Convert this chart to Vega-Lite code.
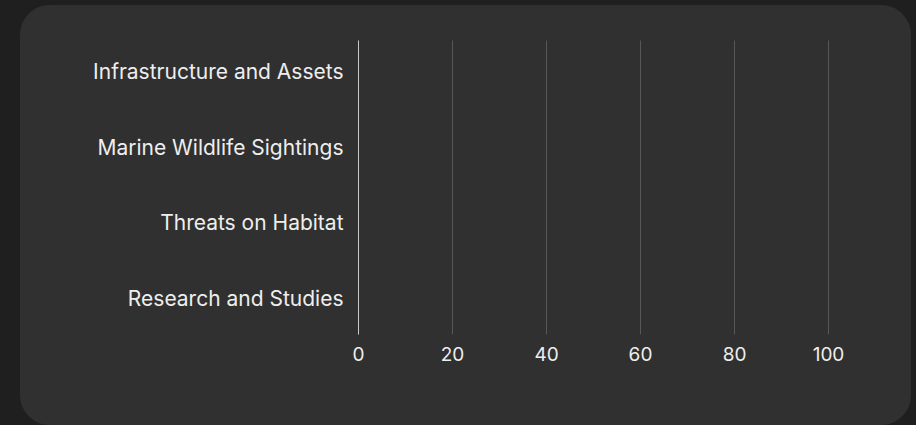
{
  "$schema": "https://vega.github.io/schema/vega-lite/v6.json",
  "width": 891,
  "height": 420,
  "autosize": {"type": "none"},
  "padding": {"left": 20, "top": 5, "right": 5, "bottom": 0},
  "background": "#1f1f1f",
  "config": {
    "view": {"fill": "#303030", "stroke": null, "cornerRadius": 30},
    "font": "Inter"
  },
  "data": {
    "values": [
      {"category": "Infrastructure and Assets", "value": 0},
      {"category": "Marine Wildlife Sightings", "value": 0},
      {"category": "Threats on Habitat", "value": 0},
      {"category": "Research and Studies", "value": 0}
    ]
  },
  "mark": {"type": "bar", "color": "#5b8ff9"},
  "encoding": {
    "y": {
      "field": "category",
      "type": "nominal",
      "sort": null,
      "scale": {"type": "point", "range": [35, 329], "padding": 0.45},
      "axis": {
        "title": null,
        "offset": -338,
        "ticks": false,
        "labelPadding": 15,
        "labelOffset": -1,
        "labelFontSize": 21,
        "labelColor": "#eeeeee",
        "labelFont": "Inter",
        "labelLimit": 400,
        "domainColor": "#c8c8c8",
        "domainWidth": 1,
        "grid": false
      }
    },
    "x": {
      "field": "value",
      "type": "quantitative",
      "scale": {"domain": [0, 100], "range": [338, 808], "nice": false, "zero": true},
      "axis": {
        "title": null,
        "orient": "top",
        "values": [0, 20, 40, 60, 80, 100],
        "offset": -329,
        "domain": false,
        "ticks": false,
        "labelFlush": false,
        "labelBaseline": "top",
        "labelPadding": -11,
        "labelFontSize": 19,
        "labelColor": "#eeeeee",
        "labelFont": "Inter",
        "grid": true,
        "gridColor": "#575757",
        "gridWidth": 1
      }
    }
  }
}
